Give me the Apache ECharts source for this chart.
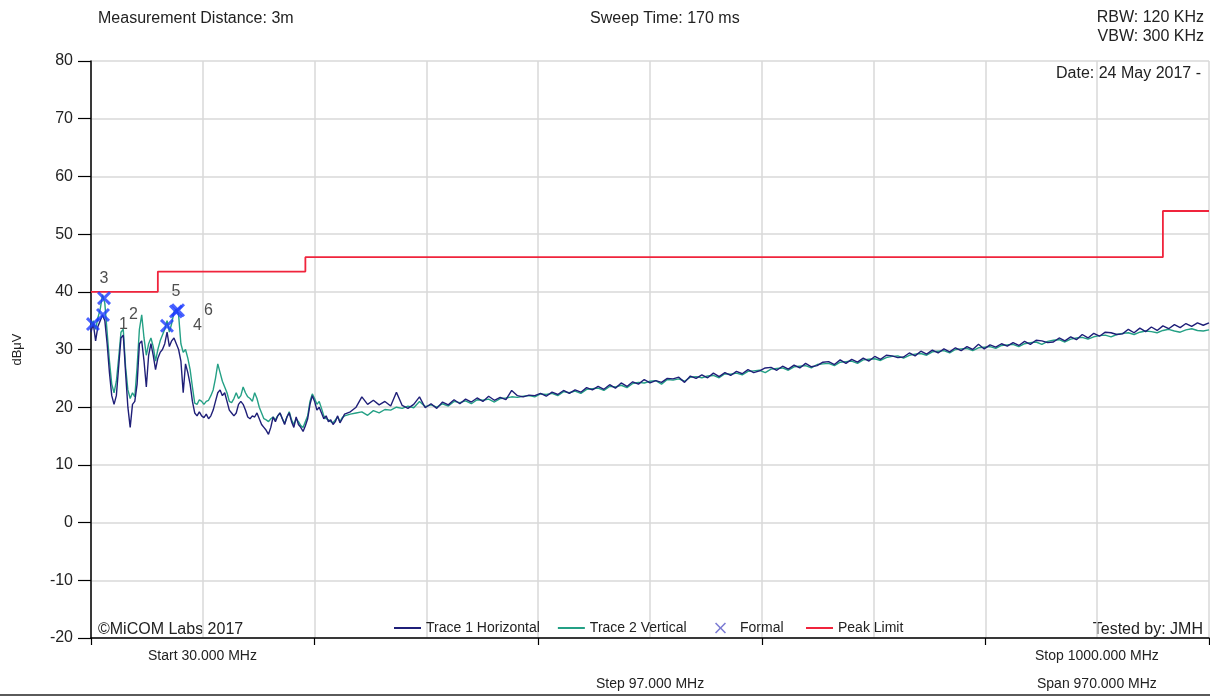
<!DOCTYPE html>
<html>
<head>
<meta charset="utf-8">
<script src="https://cdn.jsdelivr.net/npm/echarts@6/dist/echarts.min.js"></script>
<style>
html,body{margin:0;padding:0;background:#fff;}
#chart{width:1210px;height:696px;}
</style>
</head>
<body>
<div id="chart"></div>
<script>
// ---- data ----
const freqMHz = [
30,32,34,36,38,40,42,44,46,48,50,52,54,56,58,60,62,64,66,68,
70,72,74,76,78,80,82,84,86,88,90,92,94,96,98,100,102,104,106,108,
110,112,114,116,118,120,122,124,126,128,130,132,134,136,138,140,142,144,146,148,
150,152,154,156,158,160,162,164,166,168,170,172,174,176,178,180,182,184,186,188,
190,192,194,196,198,200,202,204,206,208,210,212,214,216,218,220,222,224,226,228,
230,232,234,236,238,240,242,244,246,248,250,
255,260,265,270,275,280,285,290,295,300,305,310,315,320,325,330,335,340,345,350,
355,360,365,370,375,380,385,390,395,400,405,410,415,420,425,430,435,440,445,450,
455,460,465,470,475,480,485,490,495,500,505,510,515,520,525,530,535,540,545,550,
555,560,565,570,575,580,585,590,595,600,605,610,615,620,625,630,635,640,645,650,
655,660,665,670,675,680,685,690,695,700,705,710,715,720,725,730,735,740,745,750,
755,760,765,770,775,780,785,790,795,800,805,810,815,820,825,830,835,840,845,850,
855,860,865,870,875,880,885,890,895,900,905,910,915,920,925,930,935,940,945,950,
955,960,965,970,975,980,985,990,995,1000
];
const trace1Horizontal = [
33.0,34.5,31.5,34.0,35.0,36.0,35.0,31.0,26.0,22.0,20.5,22.0,27.0,32.0,32.5,26.0,20.0,16.5,20.5,21.0,
24.0,31.0,31.5,28.0,23.5,29.0,31.0,29.0,26.5,28.5,29.5,30.0,31.0,33.0,30.5,31.5,32.0,31.0,30.0,28.0,
22.5,27.5,26.0,24.0,21.0,19.0,18.5,19.2,18.5,18.2,18.8,18.0,18.5,19.5,21.0,22.5,23.0,22.0,22.5,21.0,
19.5,19.0,18.5,19.0,20.5,21.0,20.5,19.5,18.3,18.0,18.5,18.3,19.0,18.0,17.0,16.5,16.0,15.3,16.5,18.3,
17.5,18.5,19.0,18.0,17.0,18.3,19.0,17.5,16.5,18.3,17.0,16.5,15.8,16.8,18.0,20.5,22.0,21.0,19.5,20.0,
19.0,18.0,18.5,17.5,17.8,17.0,17.5,18.5,17.3,18.0,18.8,
19.2,20.0,21.8,20.5,21.2,20.4,21.0,20.2,22.6,20.3,19.8,20.5,21.8,19.9,20.6,19.8,20.9,20.4,21.3,20.6,
21.4,20.9,21.6,21.0,21.9,21.2,21.7,21.3,22.9,22.0,21.8,22.1,22.0,22.4,21.9,22.6,22.2,22.9,22.4,23.0,
22.6,23.4,23.0,23.6,23.1,23.9,23.3,24.2,23.6,24.4,24.0,24.8,24.2,24.6,24.3,25.0,24.9,25.2,24.3,25.4,
25.0,25.6,25.1,25.9,25.3,26.0,25.5,26.2,25.8,26.5,26.0,26.3,26.8,26.9,26.4,27.1,26.6,27.3,26.8,27.6,
27.0,27.2,27.8,27.9,27.4,28.2,27.6,28.3,27.8,28.5,28.0,28.8,28.3,29.0,28.9,28.6,28.7,29.4,28.9,29.7,
29.2,29.9,29.4,30.1,29.6,30.3,29.8,30.5,30.0,30.9,30.1,30.8,30.4,31.0,30.6,31.2,30.7,31.4,30.9,31.6,
31.5,31.2,31.3,32.0,31.5,32.2,31.7,32.6,32.0,32.8,32.3,33.0,32.9,32.6,32.7,33.5,32.9,33.7,33.1,33.9,
33.3,34.1,33.6,34.3,33.8,34.5,34.0,34.6,34.2,34.6
];
const trace2Vertical = [
34.0,35.0,33.5,35.5,37.0,39.5,38.0,33.0,28.0,24.0,22.5,24.5,28.5,33.0,33.5,27.0,23.0,21.5,22.5,21.8,
27.0,33.5,36.0,32.0,29.0,31.0,32.0,30.5,28.0,30.0,31.5,32.5,33.5,35.0,33.0,34.5,36.5,37.0,36.0,31.0,
29.5,30.0,28.5,26.5,23.5,20.7,20.5,21.3,21.0,20.5,21.0,21.2,22.0,23.0,25.0,27.5,26.0,24.5,23.5,22.5,
21.0,20.8,21.5,22.5,21.5,22.0,23.5,22.5,21.8,21.5,21.0,22.5,21.5,20.0,19.0,18.0,17.8,17.5,18.0,18.3,
17.8,18.5,19.0,18.0,17.2,18.3,19.2,17.8,17.0,18.0,17.5,16.8,16.5,17.5,18.5,21.0,22.3,21.5,20.5,21.0,
19.8,18.5,18.0,17.8,17.5,17.3,17.8,18.3,17.5,18.2,18.5,
18.8,19.0,19.2,18.6,19.4,19.0,19.6,19.5,20.0,19.8,20.2,19.9,21.0,20.1,20.4,20.0,20.6,20.2,21.0,20.8,
21.1,20.6,21.3,21.2,21.4,20.9,21.5,21.6,21.8,21.7,21.9,22.0,21.8,22.3,22.2,22.4,22.0,22.7,22.5,22.8,
22.4,23.1,23.2,23.3,22.9,23.6,23.5,23.8,23.4,24.1,24.3,24.2,24.5,24.6,24.0,24.8,24.7,24.9,24.5,25.2,
25.3,25.1,25.4,25.5,25.1,25.8,25.7,25.9,25.6,26.2,26.3,26.4,26.0,26.6,26.7,26.8,26.4,27.0,27.1,27.2,
26.8,27.4,27.5,27.6,27.2,27.8,27.9,28.0,27.6,28.2,28.3,28.4,28.1,28.6,28.8,28.9,28.5,29.0,29.2,29.3,
29.0,29.6,29.7,29.8,29.4,30.0,30.1,30.2,29.8,30.3,30.4,30.5,30.2,30.7,30.8,30.9,30.5,31.0,31.2,31.3,
30.9,31.4,31.6,31.7,31.3,31.8,32.0,32.1,31.8,32.2,32.4,32.5,32.2,32.6,32.8,32.9,32.6,33.0,33.2,33.1,
32.9,33.3,33.5,33.2,33.0,33.4,33.6,33.3,33.2,33.4
];
const markerFreqMHz = [31.7, 40.4, 41.3, 95.9, 103.7, 105.5];
const markerLevels  = [34.4, 36.0, 38.9, 34.1, 36.6, 36.8];
const markerNames   = ['1','2','3','4','5','6'];
const limitFreqMHz  = [30, 88, 88, 216, 216, 960, 960, 1000];
const limitLevels   = [40, 40, 43.5, 43.5, 46, 46, 54, 54];
const startMHz = 30, stopMHz = 1000, stepMHz = 97;

// ---- styling (kept apart from data) ----
const markerLabelSide = ['right','right','top','right','top','right'];
const FONT = 'Liberation Sans, Arial, sans-serif';
const TXT = '#222';
const X_PATH = 'path://M1.5,0 L5,3.5 L8.5,0 L10,1.5 L6.5,5 L10,8.5 L8.5,10 L5,6.5 L1.5,10 L0,8.5 L3.5,5 L0,1.5 Z';
const X_THIN = 'path://M1,0 L5,4 L9,0 L10,1 L6,5 L10,9 L9,10 L5,6 L1,10 L0,9 L4,5 L0,1 Z';

// x is plotted as offset from the start frequency so the 97 MHz grid starts at 0
const toPairs = (xs, ys) => xs.map((f, i) => [f - startMHz, ys[i]]);

const markerData = markerFreqMHz.map((f, i) => ({
  value: [f - startMHz, markerLevels[i]],
  label: markerLabelSide[i] === 'top'
    ? {position: 'top', distance: 5}
    : {position: 'right', distance: 19}
}));

const legendText = {fontFamily: FONT, fontSize: 14, color: TXT};

const chart = echarts.init(document.getElementById('chart'));
const option = {
  animation: false,
  backgroundColor: '#fff',
  grid: {left: 91, right: 1, top: 61, bottom: 58, containLabel: false, outerBoundsMode: 'none'},
  xAxis: [{
    type: 'value', min: 0, max: stopMHz - startMHz, interval: stepMHz,
    axisLine: {show: true, onZero: false, lineStyle: {color: '#000', width: 1.5}},
    axisTick: {show: false},
    axisLabel: {show: false},
    splitLine: {show: true, lineStyle: {color: '#d9d9d9', width: 1.5}}
  }, {
    type: 'value', min: 0, max: stopMHz - startMHz, interval: stepMHz * 2,
    position: 'bottom',
    axisLine: {show: false, onZero: false},
    axisTick: {show: true, length: 7, lineStyle: {color: '#000', width: 1.2}},
    axisLabel: {show: false},
    splitLine: {show: false}
  }],
  yAxis: {
    type: 'value', min: -20, max: 80, interval: 10,
    name: 'dBμV', nameLocation: 'middle', nameGap: 67, nameRotate: 90,
    nameTextStyle: {fontFamily: FONT, fontSize: 13, color: TXT},
    axisLine: {show: true, onZero: false, lineStyle: {color: '#000', width: 1.5}},
    axisTick: {show: true, length: 13, lineStyle: {color: '#000', width: 1.2}},
    axisLabel: {margin: 18, fontFamily: FONT, fontSize: 16, color: TXT},
    splitLine: {show: true, lineStyle: {color: '#d9d9d9', width: 1.5}}
  },
  legend: [{
    data: [{name: 'Trace 1 Horizontal', icon: 'rect'}, {name: 'Trace 2 Vertical', icon: 'rect'}],
    left: 394, top: 621, padding: 0, itemWidth: 27, itemHeight: 2, itemGap: 18,
    textStyle: legendText
  }, {
    data: [{name: 'Formal', icon: X_THIN, itemStyle: {color: '#5a5ac8'}}],
    left: 715, top: 621, padding: 0, itemWidth: 11, itemHeight: 11,
    textStyle: Object.assign({padding: [0, 0, 0, 9]}, legendText)
  }, {
    data: [{name: 'Peak Limit', icon: 'rect'}],
    left: 806, top: 621, padding: 0, itemWidth: 27, itemHeight: 2,
    textStyle: legendText
  }],
  series: [{
    name: 'Trace 1 Horizontal', type: 'line', symbol: 'none', z: 4,
    data: toPairs(freqMHz, trace1Horizontal),
    itemStyle: {color: '#1f1f78'},
    lineStyle: {color: '#1f1f78', width: 1.4}
  }, {
    name: 'Trace 2 Vertical', type: 'line', symbol: 'none', z: 3,
    data: toPairs(freqMHz, trace2Vertical),
    itemStyle: {color: '#24a085'},
    lineStyle: {color: '#24a085', width: 1.4}
  }, {
    name: 'Formal', type: 'scatter', symbol: X_PATH, symbolSize: 14, z: 6,
    itemStyle: {color: '#1e3cff'},
    label: {show: true, formatter: p => markerNames[p.dataIndex],
            fontFamily: FONT, fontSize: 16, color: TXT},
    data: markerData
  }, {
    name: 'Peak Limit', type: 'line', symbol: 'none', z: 5,
    data: toPairs(limitFreqMHz, limitLevels),
    itemStyle: {color: '#f0243c'},
    lineStyle: {color: '#f0243c', width: 1.8}
  }],
  graphic: [
    {type: 'text', left: 98, top: 11, style: {text: 'Measurement Distance: 3m', font: '16px ' + FONT, fill: TXT}},
    {type: 'text', left: 590, top: 11, style: {text: 'Sweep Time: 170 ms', font: '16px ' + FONT, fill: TXT}},
    {type: 'text', right: 6, top: 10, style: {text: 'RBW: 120 KHz', font: '16px ' + FONT, fill: TXT}},
    {type: 'text', right: 6, top: 29, style: {text: 'VBW: 300 KHz', font: '16px ' + FONT, fill: TXT}},
    {type: 'text', right: 9, top: 66, style: {text: 'Date: 24 May 2017 -', font: '16px ' + FONT, fill: TXT}},
    {type: 'text', left: 98, top: 622, style: {text: '©MiCOM Labs 2017', font: '16px ' + FONT, fill: TXT}},
    {type: 'text', right: 7, top: 622, style: {text: 'Tested by: JMH', font: '16px ' + FONT, fill: TXT}},
    {type: 'text', left: 148, top: 649, style: {text: 'Start 30.000 MHz', font: '14px ' + FONT, fill: TXT}},
    {type: 'text', left: 1035, top: 649, style: {text: 'Stop 1000.000 MHz', font: '14px ' + FONT, fill: TXT}},
    {type: 'text', left: 596, top: 677, style: {text: 'Step 97.000 MHz', font: '14px ' + FONT, fill: TXT}},
    {type: 'text', left: 1037, top: 677, style: {text: 'Span 970.000 MHz', font: '14px ' + FONT, fill: TXT}},
    {type: 'rect', left: 0, top: 694, shape: {width: 1210, height: 2}, style: {fill: '#5a5a5a'}}
  ]
};
chart.setOption(option);
</script>
</body>
</html>
